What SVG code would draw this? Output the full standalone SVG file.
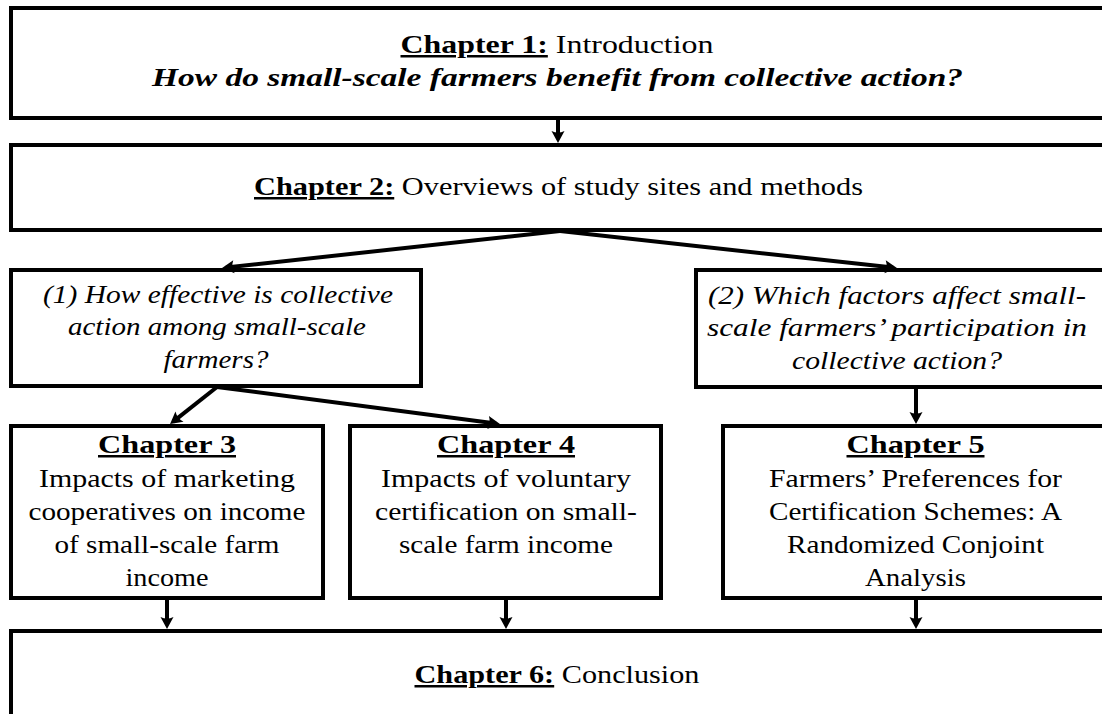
<svg xmlns="http://www.w3.org/2000/svg" width="1102" height="714" viewBox="0 0 1102 714" font-family="'Liberation Serif', 'DejaVu Serif', serif">
<style>
.box{fill:#fff;stroke:#000;stroke-width:4}
.t{font-family:'Liberation Serif','DejaVu Serif',serif;font-size:25px;fill:#000;text-anchor:middle}
.b{font-weight:bold;text-decoration:underline}
.i{font-style:italic}
.bi{font-style:italic;font-weight:bold}
.c{fill:none;stroke:#000;stroke-width:4}
</style>
<defs>
<marker id="ah" markerUnits="userSpaceOnUse" markerWidth="20" markerHeight="20" viewBox="-10 -10 20 20" refX="0" refY="0" orient="auto" overflow="visible">
<path d="M4,0 L-8,-6.5 Q-5,0 -8,6.5 Z" fill="#000"/>
</marker>
</defs>
<g id="ch1">
<rect class="box" x="11" y="8" width="1094" height="110"/>
<text class="t" font-family="Liberation Serif" x="557" y="53" textLength="313" lengthAdjust="spacingAndGlyphs"><tspan class="b">Chapter 1:</tspan> Introduction</text>
<text class="t bi" font-family="Liberation Serif" x="557.5" y="86" textLength="811" lengthAdjust="spacingAndGlyphs">How do small-scale farmers benefit from collective action?</text>
</g>
<g id="ch2">
<rect class="box" x="11" y="145" width="1094" height="85"/>
<text class="t" font-family="Liberation Serif" x="558.5" y="195" textLength="609" lengthAdjust="spacingAndGlyphs"><tspan class="b">Chapter 2:</tspan> Overviews of study sites and methods</text>
</g>
<g id="q1">
<rect class="box" x="11" y="270" width="410" height="116"/>
<text class="t i" font-family="Liberation Serif" x="218" y="303" textLength="350" lengthAdjust="spacingAndGlyphs">(1) How effective is collective</text>
<text class="t i" font-family="Liberation Serif" x="217" y="335" textLength="298" lengthAdjust="spacingAndGlyphs">action among small-scale</text>
<text class="t i" font-family="Liberation Serif" x="216" y="368" textLength="105" lengthAdjust="spacingAndGlyphs">farmers?</text>
</g>
<g id="q2">
<rect class="box" x="696" y="270" width="420" height="117"/>
<text class="t i" font-family="Liberation Serif" x="897" y="304" textLength="378" lengthAdjust="spacingAndGlyphs">(2) Which factors affect small-</text>
<text class="t i" font-family="Liberation Serif" x="897" y="336" textLength="380" lengthAdjust="spacingAndGlyphs">scale farmers’ participation in</text>
<text class="t i" font-family="Liberation Serif" x="897" y="369" textLength="210" lengthAdjust="spacingAndGlyphs">collective action?</text>
</g>
<g id="ch3">
<rect class="box" x="11" y="426" width="312" height="172"/>
<text class="t b" font-family="Liberation Serif" x="167" y="453" textLength="138" lengthAdjust="spacingAndGlyphs">Chapter 3</text>
<text class="t" font-family="Liberation Serif" x="167" y="487" textLength="256" lengthAdjust="spacingAndGlyphs">Impacts of marketing</text>
<text class="t" font-family="Liberation Serif" x="167" y="520" textLength="277" lengthAdjust="spacingAndGlyphs">cooperatives on income</text>
<text class="t" font-family="Liberation Serif" x="167" y="553" textLength="225" lengthAdjust="spacingAndGlyphs">of small-scale farm</text>
<text class="t" font-family="Liberation Serif" x="167" y="586" textLength="83" lengthAdjust="spacingAndGlyphs">income</text>
</g>
<g id="ch4">
<rect class="box" x="350" y="426" width="311" height="172"/>
<text class="t b" font-family="Liberation Serif" x="506" y="453" textLength="138" lengthAdjust="spacingAndGlyphs">Chapter 4</text>
<text class="t" font-family="Liberation Serif" x="506" y="487" textLength="250" lengthAdjust="spacingAndGlyphs">Impacts of voluntary</text>
<text class="t" font-family="Liberation Serif" x="506" y="520" textLength="262" lengthAdjust="spacingAndGlyphs">certification on small-</text>
<text class="t" font-family="Liberation Serif" x="506" y="553" textLength="214" lengthAdjust="spacingAndGlyphs">scale farm income</text>
</g>
<g id="ch5">
<rect class="box" x="723" y="426" width="385" height="172"/>
<text class="t b" font-family="Liberation Serif" x="915.5" y="453" textLength="138" lengthAdjust="spacingAndGlyphs">Chapter 5</text>
<text class="t" font-family="Liberation Serif" x="915.5" y="487" textLength="293" lengthAdjust="spacingAndGlyphs">Farmers’ Preferences for</text>
<text class="t" font-family="Liberation Serif" x="915.5" y="520" textLength="293" lengthAdjust="spacingAndGlyphs">Certification Schemes: A</text>
<text class="t" font-family="Liberation Serif" x="915.5" y="553" textLength="257" lengthAdjust="spacingAndGlyphs">Randomized Conjoint</text>
<text class="t" font-family="Liberation Serif" x="915.5" y="586" textLength="101" lengthAdjust="spacingAndGlyphs">Analysis</text>
</g>
<g id="ch6">
<rect class="box" x="11" y="631" width="1094" height="100"/>
<text class="t" font-family="Liberation Serif" x="557" y="683" textLength="285" lengthAdjust="spacingAndGlyphs"><tspan class="b">Chapter 6:</tspan> Conclusion</text>
</g>
<g id="connectors">
<line class="c" x1="558" y1="120" x2="558" y2="139" marker-end="url(#ah)"/>
<line class="c" x1="560" y1="231" x2="226" y2="267.6" marker-end="url(#ah)"/>
<line class="c" x1="560" y1="231" x2="893" y2="267.6" marker-end="url(#ah)"/>
<line class="c" x1="217" y1="387" x2="173.2" y2="421.6" marker-end="url(#ah)"/>
<line class="c" x1="217" y1="387" x2="496" y2="423.5" marker-end="url(#ah)"/>
<line class="c" x1="916" y1="389" x2="916" y2="420" marker-end="url(#ah)"/>
<line class="c" x1="167" y1="600" x2="167" y2="625" marker-end="url(#ah)"/>
<line class="c" x1="506" y1="600" x2="506" y2="625" marker-end="url(#ah)"/>
<line class="c" x1="916" y1="600" x2="916" y2="625" marker-end="url(#ah)"/>
</g>
</svg>
